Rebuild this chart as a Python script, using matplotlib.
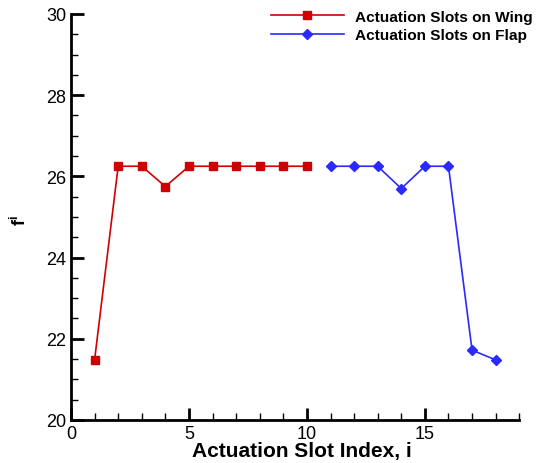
import matplotlib
matplotlib.use("Agg")
import matplotlib.pyplot as plt
from matplotlib.ticker import MultipleLocator

plt.rcParams['font.family'] = ['Liberation Sans', 'DejaVu Sans']
plt.rcParams['mathtext.fontset'] = 'custom'
plt.rcParams['mathtext.rm'] = 'Liberation Sans'
plt.rcParams['mathtext.bf'] = 'Liberation Sans:bold'
plt.rcParams['mathtext.it'] = 'Liberation Sans:italic'

wing_x = [1, 2, 3, 4, 5, 6, 7, 8, 9, 10]
wing_f = [21.48, 26.25, 26.25, 25.75, 26.25, 26.25, 26.25, 26.25, 26.25, 26.25]
flap_x = [11, 12, 13, 14, 15, 16, 17, 18]
flap_f = [26.25, 26.25, 26.25, 25.70, 26.25, 26.25, 21.72, 21.48]

fig = plt.figure(figsize=(5.42, 4.64), dpi=100)
ax = fig.add_axes([0.131, 0.0927, 0.827, 0.875])

ax.plot(wing_x, wing_f, color='#d00000', marker='s', markersize=6, lw=1.2,
        label='Actuation Slots on Wing')
ax.plot(flap_x, flap_f, color='#2a2aff', marker='D', markersize=5, lw=1.2,
        label='Actuation Slots on Flap')

ax.set_xlim(0, 19)
ax.set_ylim(20, 30)
ax.xaxis.set_major_locator(MultipleLocator(5))
ax.xaxis.set_minor_locator(MultipleLocator(1))
ax.yaxis.set_major_locator(MultipleLocator(2))
ax.yaxis.set_minor_locator(MultipleLocator(0.5))
ax.tick_params(which='both', direction='in', top=False, right=False, labelsize=13, width=1.2)
ax.tick_params(which='major', length=9, width=2)
ax.tick_params(which='minor', length=5, width=1)
for s in ['top', 'right']:
    ax.spines[s].set_visible(False)
for s in ['left', 'bottom']:
    ax.spines[s].set_linewidth(2)

ax.set_xlabel('Actuation Slot Index, i', fontsize=15, fontweight='bold')
ax.xaxis.set_label_coords(0.516, -0.052, transform=ax.transAxes)
ax.xaxis.label.set_va('top')
ax.set_ylabel(r'$\mathbf{f^i}$', fontsize=13)
ax.yaxis.set_label_coords(-0.092, 0.493)

leg = ax.legend(loc='upper right', bbox_to_anchor=(1.061, 1.045), frameon=False,
                prop={'weight': 'bold', 'size': 11.1}, handlelength=4.7,
                labelspacing=0.3, handletextpad=0.75)

fig.savefig('out.png', dpi=100)
